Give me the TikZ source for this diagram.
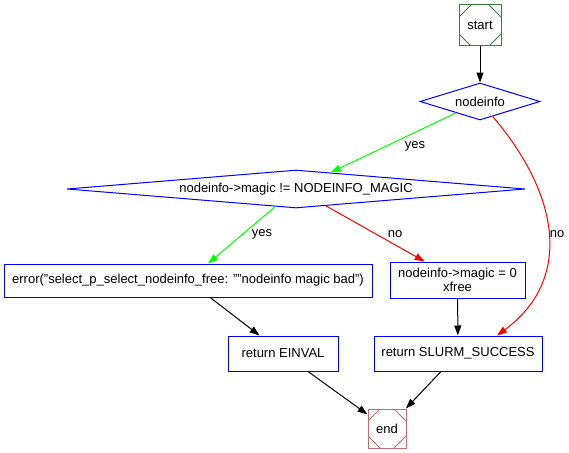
\documentclass[tikz,border=0pt]{standalone}
\usepackage{fontspec}
\setmainfont{Liberation Sans}
\usetikzlibrary{shapes.geometric,arrows.meta}
\definecolor{startgreen}{HTML}{3D7F3D}
\definecolor{endred}{HTML}{C07070}
\begin{document}
\begin{tikzpicture}[x=1pt,y=-1pt,
  every node/.style={font=\fontsize{13}{14.5}\selectfont, inner sep=0pt},
  msq/.style={draw=#1, line width=1pt, rectangle,
    path picture={\draw[#1, line width=1pt]
      ([yshift=-12pt]path picture bounding box.north west) -- ([xshift=12pt]path picture bounding box.north west)
      ([xshift=-12pt]path picture bounding box.north east) -- ([yshift=-12pt]path picture bounding box.north east)
      ([yshift=12pt]path picture bounding box.south east) -- ([xshift=-12pt]path picture bounding box.south east)
      ([xshift=12pt]path picture bounding box.south west) -- ([yshift=12pt]path picture bounding box.south west);}},
  stepbox/.style={draw=blue, line width=1pt, rectangle, align=center},
  decision/.style={draw=blue, line width=1pt, diamond, aspect=#1},
  flow/.style={line width=1pt, -{Triangle[length=10pt,width=7pt]}},
  lbl/.style={fill=none}
]
\useasboundingbox (0,0) rectangle (569,452);

% nodes
\node[msq=startgreen, minimum width=42pt, minimum height=41pt] (start) at (480,25.5) {start};
\node[decision=3.2, minimum width=120pt, minimum height=37pt] (ni) at (480,101.5) {nodeinfo};
\node[decision=12, minimum width=458pt, minimum height=38pt] (magic) at (296,189) {nodeinfo->magic != NODEINFO\_MAGIC};
\node[stepbox, minimum width=368pt, minimum height=33pt] (err) at (188,280.5) {error("select\_p\_select\_nodeinfo\_free: ""nodeinfo magic bad")};
\node[stepbox, minimum width=135pt, minimum height=36pt] (xfree) at (457.5,280) {nodeinfo->magic = 0\\xfree};
\node[stepbox, minimum width=110pt, minimum height=35pt] (einval) at (283,353.5) {return EINVAL};
\node[stepbox, minimum width=168pt, minimum height=35pt] (succ) at (458,353.5) {return SLURM\_SUCCESS};
\node[msq=endred, minimum width=38pt, minimum height=39pt] (end) at (387,428.5) {end};

% connectors
\draw[flow] (start) -- (ni);
\draw[flow, green] (ni) -- (magic);
\draw[flow, red] (ni) .. controls (562,198) and (571,281) .. ([xshift=39pt]succ.north);
\draw[flow, green] (magic) -- (err);
\draw[flow, red] (magic) -- (xfree);
\draw[flow] (err) -- (einval);
\draw[flow] (xfree) -- (succ);
\draw[flow] (einval) -- (end);
\draw[flow] (succ) -- (end);

% labels
\node[lbl] (l1) at (415,146) {yes};
\node[lbl] (l2) at (557,234) {no};
\node[lbl] (l3) at (262,234) {yes};
\node[lbl] (l4) at (395,234) {no};
\end{tikzpicture}
\end{document}
